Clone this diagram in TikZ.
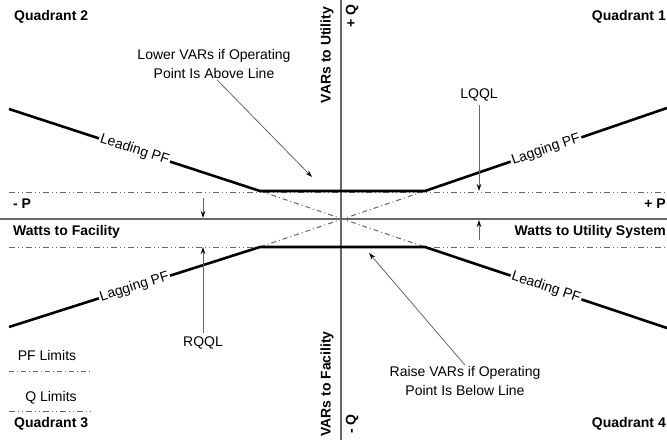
\documentclass[tikz,border=0pt]{standalone}
\usepackage{fontspec}
\setmainfont{Liberation Sans}
\usetikzlibrary{arrows.meta}
\begin{document}
\begin{tikzpicture}[x=1pt,y=-1pt,
  every node/.style={font=\fontsize{14}{19}\selectfont,inner sep=1pt},
  bold/.style={font=\fontsize{14}{19}\selectfont\bfseries},
  axisline/.style={draw=black!60,line width=1.2pt},
  pfline/.style={draw=black,line width=2.6pt},
  qlimit/.style={draw=black!60,line width=1pt,dash pattern=on 6pt off 3pt on 1pt off 3pt on 1pt off 3pt},
  pflimit/.style={draw=black!60,line width=1pt,dash pattern=on 5pt off 3pt on 1pt off 3pt},
  callout/.style={draw=black!60,line width=0.8pt,-{Stealth[length=7pt,width=4.5pt,color=black]}},
  onpf/.style={sloped,fill=white,inner sep=1.5pt}]
  \useasboundingbox (0,0) rectangle (667,444);
  % axes
  \coordinate (ytop) at (341,0); \coordinate (ybot) at (341,440);
  \coordinate (xl) at (0,219); \coordinate (xr) at (667,219);
  \draw[axisline] (ytop) -- (ybot);
  \draw[axisline] (xl) -- (xr);
  % Q limits and PF limits
  \coordinate (ql) at (9,192); \coordinate (qr) at (667,192);
  \coordinate (rl) at (9,247); \coordinate (rr) at (667,247);
  \draw[qlimit] (ql) -- (qr);
  \draw[qlimit] (rl) -- (rr);
  \coordinate (a1) at (260,191); \coordinate (b1) at (425,191);
  \coordinate (a2) at (260,247); \coordinate (b2) at (425,247);
  \draw[pflimit] (a1) -- (b2);
  \draw[pflimit] (a2) -- (b1);
  % operating limit curves
  \coordinate (ul) at (9,109); \coordinate (ur) at (667,108);
  \coordinate (ll) at (9,327); \coordinate (lr) at (667,328);
  \draw[pfline] (ul) -- node[onpf] (lead1) {Leading PF} (a1) -- (b1) -- node[onpf] (lag1) {Lagging PF} (ur);
  \draw[pfline] (ll) -- node[onpf] (lag2) {Lagging PF} (a2) -- (b2) -- node[onpf] (lead2) {Leading PF} (lr);
  % labels
  \node[bold,anchor=west] (q2) at (13,17) {Quadrant 2};
  \node[bold,anchor=east] (q1) at (667,17) {Quadrant 1};
  \node[bold,anchor=west] (q3) at (13,424) {Quadrant 3};
  \node[bold,anchor=east] (q4) at (667,424) {Quadrant 4};
  \node[bold,rotate=90] (vutil) at (327,55) {VARs to Utility};
  \node[bold,rotate=90] (vfac) at (327,384) {VARs to Facility};
  \node[bold,rotate=90] (pq) at (352,16) {+ Q};
  \node[bold,rotate=90] (mq) at (352,424) {- Q};
  \node[bold,anchor=west] (mp) at (12,204) {- P};
  \node[bold,anchor=west] (wfac) at (12,232) {Watts to Facility};
  \node[bold,anchor=east] (pp) at (667,204) {+ P};
  \node[bold,anchor=east] (wutil) at (667,232) {Watts to Utility System};
  \node[align=center] (lower) at (214,64) {Lower VARs if Operating\\Point Is Above Line};
  \node[align=center] (raise) at (465,381) {Raise VARs if Operating\\Point Is Below Line};
  \node (lqql) at (479,95) {LQQL};
  \node (rqql) at (203,343) {RQQL};
  % callouts
  \coordinate (lowtip) at (312,177); \coordinate (raisetip) at (369,253);
  \coordinate (lqtip) at (479,191); \coordinate (rqtip) at (203,247);
  \coordinate (s1) at (203,198); \coordinate (s1tip) at (203,218);
  \coordinate (s2) at (479,240); \coordinate (s2tip) at (479,220);
  \draw[callout] (lower.south) ++(3,0) -- (lowtip);
  \draw[callout] (raise.north) -- (raisetip);
  \draw[callout] (lqql.south) ++(0,3) -- (lqtip);
  \draw[callout] (rqql.north) ++(0,-3) -- (rqtip);
  \draw[callout] (s1) -- (s1tip);
  \draw[callout] (s2) -- (s2tip);
  % legend
  \node (pfleg) at (47,355) {PF Limits};
  \node (qleg) at (51,398) {Q Limits};
  \coordinate (pf1) at (9,371); \coordinate (pf2) at (90,371);
  \coordinate (qq1) at (9,411); \coordinate (qq2) at (93,411);
  \draw[pflimit] (pf1) -- (pf2);
  \draw[qlimit] (qq1) -- (qq2);
\end{tikzpicture}
\end{document}
